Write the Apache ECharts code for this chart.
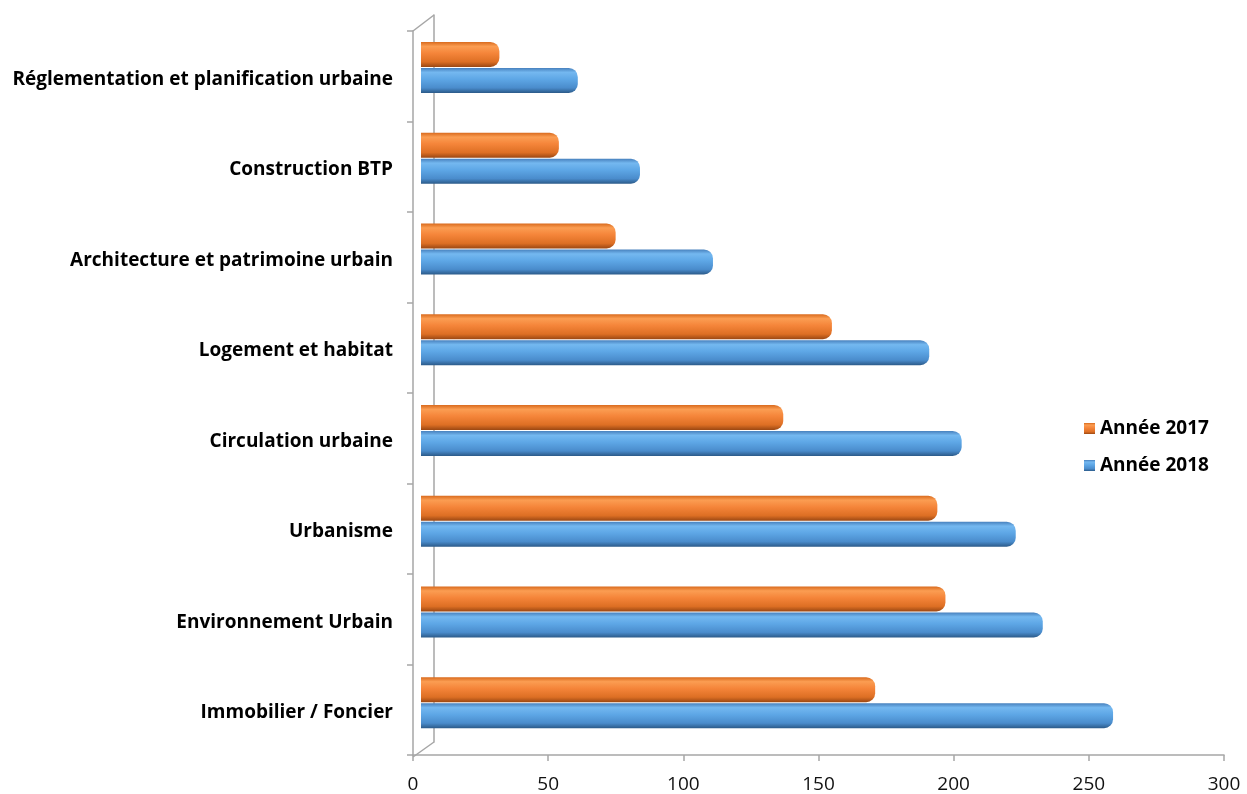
<!DOCTYPE html>
<html>
<head>
<meta charset="utf-8">
<script src="https://cdn.jsdelivr.net/npm/echarts@6/dist/echarts.min.js"></script>
<style>
html,body{margin:0;padding:0;background:#fff;}
#chart{width:1247px;height:794px;}
</style>
</head>
<body>
<div id="chart"></div>
<script>
const categories = [
  "Réglementation et planification urbaine",
  "Construction BTP",
  "Architecture et patrimoine urbain",
  "Logement et habitat",
  "Circulation urbaine",
  "Urbanisme",
  "Environnement Urbain",
  "Immobilier / Foncier"
];
const values2017 = [29, 51, 72, 152, 134, 191, 194, 168];
const values2018 = [58, 81, 108, 188, 200, 220, 230, 256];
const seriesNames = ["Année 2017", "Année 2018"];
const xTicks = [0, 300, 50];

const FONT = "Open Sans";
const AXIS_GREY = "#a6a6a6";

function grad(stops) {
  return new echarts.graphic.LinearGradient(0, 0, 0, 1, stops.map(s => ({offset: s[0], color: s[1]})));
}
const orangeFill = grad([[0, "#d8691c"], [0.18, "#fb9d52"], [0.45, "#f5853a"], [0.8, "#dd6f24"], [1, "#9c4813"]]);
const blueFill = grad([[0, "#467fbc"], [0.18, "#74b8f0"], [0.45, "#5ea7e6"], [0.8, "#4a8ccc"], [1, "#2c5b8a"]]);

const chart = echarts.init(document.getElementById("chart"), null, {renderer: "canvas"});

const option = {
  backgroundColor: "#ffffff",
  animation: false,
  legend: {
    orient: "vertical",
    left: 1079,
    top: 414,
    itemWidth: 11,
    itemHeight: 11,
    itemGap: 18,
    data: seriesNames,
    textStyle: {fontFamily: FONT, fontWeight: "bold", fontSize: 19, color: "#000"},
    icon: "rect"
  },
  grid: [
    {left: 413, right: 23, top: 31, bottom: 37},
    {left: 421, right: 15, top: 22, bottom: 46},
    {left: 434, right: 2, top: 15, bottom: 52}
  ],
  xAxis: [
    {
      gridIndex: 0, type: "value", min: xTicks[0], max: xTicks[1], interval: xTicks[2],
      axisLine: {show: true, lineStyle: {color: AXIS_GREY, width: 1.5}},
      axisTick: {show: true, length: 6, lineStyle: {color: AXIS_GREY, width: 1.5}},
      splitLine: {show: false},
      axisLabel: {fontFamily: FONT, fontSize: 19, color: "#111", margin: 20}
    },
    {
      gridIndex: 1, type: "value", min: xTicks[0], max: xTicks[1], interval: xTicks[2],
      show: false, splitLine: {show: false}
    },
    {
      gridIndex: 2, type: "value", min: xTicks[0], max: xTicks[1], show: false, splitLine: {show: false}
    }
  ],
  yAxis: [
    {
      gridIndex: 0, type: "category", data: categories, inverse: true,
      axisLine: {show: true, lineStyle: {color: AXIS_GREY, width: 1.5}},
      axisTick: {show: true, length: 6, lineStyle: {color: AXIS_GREY, width: 1.5}},
      axisLabel: {
        margin: 20,
        formatter: "{c|{value}}",
        rich: {c: {fontFamily: FONT, fontWeight: "bold", fontSize: 19, color: "#000", padding: [6, 0, 0, 0]}}
      }
    },
    {
      gridIndex: 1, type: "category", data: categories, inverse: true, show: false
    },
    {
      gridIndex: 2, type: "category", data: categories, inverse: true,
      axisLine: {show: true, lineStyle: {color: AXIS_GREY, width: 1.5}},
      axisTick: {show: false}, axisLabel: {show: false}
    }
  ],
  graphic: [
    {type: "line", shape: {x1: 413, y1: 31, x2: 434, y2: 15}, style: {stroke: AXIS_GREY, lineWidth: 1.5}, silent: true},
    {type: "line", shape: {x1: 413, y1: 757, x2: 434, y2: 742}, style: {stroke: AXIS_GREY, lineWidth: 1.5}, silent: true}
  ],
  series: [
    {
      name: seriesNames[0], type: "bar", xAxisIndex: 1, yAxisIndex: 1,
      data: values2017, barWidth: 25, barGap: "4%",
      itemStyle: {color: orangeFill, borderRadius: [0, 9, 9, 0]}
    },
    {
      name: seriesNames[1], type: "bar", xAxisIndex: 1, yAxisIndex: 1,
      data: values2018, barWidth: 25, barGap: "4%",
      itemStyle: {color: blueFill, borderRadius: [0, 9, 9, 0]}
    }
  ]
};
chart.setOption(option);
</script>
</body>
</html>
